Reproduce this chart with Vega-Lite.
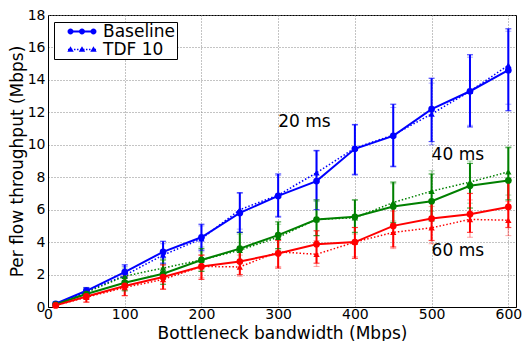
{
  "$schema": "https://vega.github.io/schema/vega-lite/v6.json",
  "autosize": {"type": "none"},
  "padding": {"left": 48, "top": 15, "right": 9, "bottom": 34},
  "width": 468,
  "height": 292,
  "background": "white",
  "config": {
    "view": {"stroke": "black", "strokeWidth": 1},
    "axis": {
      "labelFont": "DejaVu Sans", "labelFontSize": 14, "labelColor": "black",
      "titleFont": "DejaVu Sans", "titleFontSize": 17, "titleFontWeight": "normal", "titleColor": "black",
      "domainColor": "black", "tickSize": 0, "grid": true, "gridDash": [1, 2], "gridColor": "#888888",
      "gridOpacity": 1, "labelFlush": false, "labelOverlap": false
    }
  },
  "datasets": {
    "main": [
      {"bw": 10, "delay": "20 ms", "variant": "Baseline", "y": 0.2, "lo": 0.1, "hi": 0.3},
      {"bw": 50, "delay": "20 ms", "variant": "Baseline", "y": 1.0, "lo": 0.8, "hi": 1.2},
      {"bw": 100, "delay": "20 ms", "variant": "Baseline", "y": 2.15, "lo": 1.6, "hi": 2.6},
      {"bw": 150, "delay": "20 ms", "variant": "Baseline", "y": 3.4, "lo": 2.7, "hi": 4.05},
      {"bw": 200, "delay": "20 ms", "variant": "Baseline", "y": 4.3, "lo": 3.5, "hi": 5.1},
      {"bw": 250, "delay": "20 ms", "variant": "Baseline", "y": 5.8, "lo": 4.6, "hi": 7.05},
      {"bw": 300, "delay": "20 ms", "variant": "Baseline", "y": 6.85, "lo": 5.55, "hi": 8.2},
      {"bw": 350, "delay": "20 ms", "variant": "Baseline", "y": 7.76, "lo": 6.0, "hi": 9.65},
      {"bw": 400, "delay": "20 ms", "variant": "Baseline", "y": 9.75, "lo": 8.15, "hi": 11.25},
      {"bw": 450, "delay": "20 ms", "variant": "Baseline", "y": 10.55, "lo": 8.65, "hi": 12.5},
      {"bw": 500, "delay": "20 ms", "variant": "Baseline", "y": 12.2, "lo": 10.2, "hi": 14.1},
      {"bw": 550, "delay": "20 ms", "variant": "Baseline", "y": 13.3, "lo": 11.1, "hi": 15.55},
      {"bw": 600, "delay": "20 ms", "variant": "Baseline", "y": 14.6, "lo": 12.1, "hi": 17.15},
      {"bw": 10, "delay": "20 ms", "variant": "TDF 10", "y": 0.2, "lo": 0.1, "hi": 0.3},
      {"bw": 50, "delay": "20 ms", "variant": "TDF 10", "y": 0.95, "lo": 0.75, "hi": 1.15},
      {"bw": 100, "delay": "20 ms", "variant": "TDF 10", "y": 1.95, "lo": 1.45, "hi": 2.5},
      {"bw": 150, "delay": "20 ms", "variant": "TDF 10", "y": 3.2, "lo": 2.6, "hi": 3.9},
      {"bw": 200, "delay": "20 ms", "variant": "TDF 10", "y": 4.2, "lo": 3.4, "hi": 5.0},
      {"bw": 250, "delay": "20 ms", "variant": "TDF 10", "y": 6.0, "lo": 4.8, "hi": 7.0},
      {"bw": 300, "delay": "20 ms", "variant": "TDF 10", "y": 6.9, "lo": 5.6, "hi": 8.1},
      {"bw": 350, "delay": "20 ms", "variant": "TDF 10", "y": 8.27, "lo": 6.6, "hi": 9.6},
      {"bw": 400, "delay": "20 ms", "variant": "TDF 10", "y": 9.8, "lo": 8.2, "hi": 11.2},
      {"bw": 450, "delay": "20 ms", "variant": "TDF 10", "y": 10.6, "lo": 8.7, "hi": 12.3},
      {"bw": 500, "delay": "20 ms", "variant": "TDF 10", "y": 11.9, "lo": 10.0, "hi": 13.8},
      {"bw": 550, "delay": "20 ms", "variant": "TDF 10", "y": 13.3, "lo": 11.2, "hi": 15.4},
      {"bw": 600, "delay": "20 ms", "variant": "TDF 10", "y": 14.9, "lo": 12.5, "hi": 17.0},
      {"bw": 10, "delay": "40 ms", "variant": "Baseline", "y": 0.15, "lo": 0.1, "hi": 0.2},
      {"bw": 50, "delay": "40 ms", "variant": "Baseline", "y": 0.8, "lo": 0.5, "hi": 1.1},
      {"bw": 100, "delay": "40 ms", "variant": "Baseline", "y": 1.5, "lo": 1.0, "hi": 2.1},
      {"bw": 150, "delay": "40 ms", "variant": "Baseline", "y": 2.05, "lo": 1.4, "hi": 2.9},
      {"bw": 200, "delay": "40 ms", "variant": "Baseline", "y": 2.9, "lo": 2.2, "hi": 3.6},
      {"bw": 250, "delay": "40 ms", "variant": "Baseline", "y": 3.6, "lo": 2.8, "hi": 4.6},
      {"bw": 300, "delay": "40 ms", "variant": "Baseline", "y": 4.43, "lo": 3.6, "hi": 5.25},
      {"bw": 350, "delay": "40 ms", "variant": "Baseline", "y": 5.39, "lo": 4.4, "hi": 6.6},
      {"bw": 400, "delay": "40 ms", "variant": "Baseline", "y": 5.56, "lo": 4.6, "hi": 6.6},
      {"bw": 450, "delay": "40 ms", "variant": "Baseline", "y": 6.2, "lo": 5.2, "hi": 7.7},
      {"bw": 500, "delay": "40 ms", "variant": "Baseline", "y": 6.52, "lo": 5.3, "hi": 8.2},
      {"bw": 550, "delay": "40 ms", "variant": "Baseline", "y": 7.47, "lo": 6.1, "hi": 8.85},
      {"bw": 600, "delay": "40 ms", "variant": "Baseline", "y": 7.8, "lo": 6.6, "hi": 9.85},
      {"bw": 10, "delay": "40 ms", "variant": "TDF 10", "y": 0.15, "lo": 0.1, "hi": 0.2},
      {"bw": 50, "delay": "40 ms", "variant": "TDF 10", "y": 0.9, "lo": 0.6, "hi": 1.2},
      {"bw": 100, "delay": "40 ms", "variant": "TDF 10", "y": 1.9, "lo": 1.3, "hi": 2.4},
      {"bw": 150, "delay": "40 ms", "variant": "TDF 10", "y": 2.4, "lo": 1.7, "hi": 3.0},
      {"bw": 200, "delay": "40 ms", "variant": "TDF 10", "y": 2.9, "lo": 2.2, "hi": 3.7},
      {"bw": 250, "delay": "40 ms", "variant": "TDF 10", "y": 3.5, "lo": 2.7, "hi": 4.5},
      {"bw": 300, "delay": "40 ms", "variant": "TDF 10", "y": 4.3, "lo": 3.5, "hi": 5.1},
      {"bw": 350, "delay": "40 ms", "variant": "TDF 10", "y": 5.4, "lo": 4.4, "hi": 6.5},
      {"bw": 400, "delay": "40 ms", "variant": "TDF 10", "y": 5.5, "lo": 4.5, "hi": 6.6},
      {"bw": 450, "delay": "40 ms", "variant": "TDF 10", "y": 6.44, "lo": 5.3, "hi": 7.6},
      {"bw": 500, "delay": "40 ms", "variant": "TDF 10", "y": 7.14, "lo": 5.9, "hi": 8.4},
      {"bw": 550, "delay": "40 ms", "variant": "TDF 10", "y": 7.7, "lo": 6.4, "hi": 9.0},
      {"bw": 600, "delay": "40 ms", "variant": "TDF 10", "y": 8.33, "lo": 6.9, "hi": 9.8},
      {"bw": 10, "delay": "60 ms", "variant": "Baseline", "y": 0.1, "lo": 0.05, "hi": 0.15},
      {"bw": 50, "delay": "60 ms", "variant": "Baseline", "y": 0.65, "lo": 0.3, "hi": 1.0},
      {"bw": 100, "delay": "60 ms", "variant": "Baseline", "y": 1.3, "lo": 0.7, "hi": 1.9},
      {"bw": 150, "delay": "60 ms", "variant": "Baseline", "y": 1.85, "lo": 1.1, "hi": 2.6},
      {"bw": 200, "delay": "60 ms", "variant": "Baseline", "y": 2.5, "lo": 1.7, "hi": 3.2},
      {"bw": 250, "delay": "60 ms", "variant": "Baseline", "y": 2.8, "lo": 2.0, "hi": 3.5},
      {"bw": 300, "delay": "60 ms", "variant": "Baseline", "y": 3.3, "lo": 2.4, "hi": 4.1},
      {"bw": 350, "delay": "60 ms", "variant": "Baseline", "y": 3.87, "lo": 2.7, "hi": 4.7},
      {"bw": 400, "delay": "60 ms", "variant": "Baseline", "y": 4.0, "lo": 3.0, "hi": 4.9},
      {"bw": 450, "delay": "60 ms", "variant": "Baseline", "y": 5.0, "lo": 3.7, "hi": 6.2},
      {"bw": 500, "delay": "60 ms", "variant": "Baseline", "y": 5.45, "lo": 4.1, "hi": 6.6},
      {"bw": 550, "delay": "60 ms", "variant": "Baseline", "y": 5.72, "lo": 4.6, "hi": 7.0},
      {"bw": 600, "delay": "60 ms", "variant": "Baseline", "y": 6.17, "lo": 4.9, "hi": 7.8},
      {"bw": 10, "delay": "60 ms", "variant": "TDF 10", "y": 0.1, "lo": 0.05, "hi": 0.15},
      {"bw": 50, "delay": "60 ms", "variant": "TDF 10", "y": 0.6, "lo": 0.3, "hi": 0.95},
      {"bw": 100, "delay": "60 ms", "variant": "TDF 10", "y": 1.2, "lo": 0.7, "hi": 1.8},
      {"bw": 150, "delay": "60 ms", "variant": "TDF 10", "y": 1.7, "lo": 1.1, "hi": 2.4},
      {"bw": 200, "delay": "60 ms", "variant": "TDF 10", "y": 2.5, "lo": 1.8, "hi": 3.2},
      {"bw": 250, "delay": "60 ms", "variant": "TDF 10", "y": 2.47, "lo": 1.9, "hi": 3.2},
      {"bw": 300, "delay": "60 ms", "variant": "TDF 10", "y": 3.4, "lo": 2.5, "hi": 4.2},
      {"bw": 350, "delay": "60 ms", "variant": "TDF 10", "y": 3.25, "lo": 2.5, "hi": 4.1},
      {"bw": 400, "delay": "60 ms", "variant": "TDF 10", "y": 4.0, "lo": 3.1, "hi": 4.9},
      {"bw": 450, "delay": "60 ms", "variant": "TDF 10", "y": 4.6, "lo": 3.6, "hi": 5.9},
      {"bw": 500, "delay": "60 ms", "variant": "TDF 10", "y": 4.88, "lo": 3.9, "hi": 6.2},
      {"bw": 550, "delay": "60 ms", "variant": "TDF 10", "y": 5.4, "lo": 4.3, "hi": 6.6},
      {"bw": 600, "delay": "60 ms", "variant": "TDF 10", "y": 5.35, "lo": 4.4, "hi": 6.5}
    ],
    "labels": [
      {"bw": 300, "y": 11.4, "text": "20 ms"},
      {"bw": 500, "y": 9.4, "text": "40 ms"},
      {"bw": 500, "y": 3.44, "text": "60 ms"}
    ]
  },
  "encoding": {
    "x": {"field": "bw", "type": "quantitative", "scale": {"domain": [0, 610], "nice": false},
      "axis": {"values": [0, 100, 200, 300, 400, 500, 600], "title": "Bottleneck bandwidth (Mbps)", "labelPadding": 0, "titlePadding": 4}},
    "y": {"field": "y", "type": "quantitative", "scale": {"domain": [0, 18], "nice": false},
      "axis": {"values": [0, 2, 4, 6, 8, 10, 12, 14, 16, 18], "title": "Per flow throughput (Mbps)", "labelPadding": 3, "titlePadding": 1}}
  },
  "layer": [
    {
      "data": {"name": "main"},
      "transform": [{"filter": "datum.variant === 'TDF 10'"}],
      "mark": {"type": "rule", "strokeWidth": 1.5, "opacity": 0.35},
      "encoding": {
        "y": {"field": "lo", "type": "quantitative"}, "y2": {"field": "hi"},
        "color": {"field": "delay", "type": "nominal", "scale": {"domain": ["20 ms", "40 ms", "60 ms"], "range": ["#0000ff", "#008000", "#ff0000"]}, "legend": null}
      }
    },
    {
      "data": {"name": "main"},
      "transform": [{"filter": "datum.variant === 'TDF 10'"}],
      "mark": {"type": "tick", "orient": "horizontal", "size": 6, "thickness": 1, "opacity": 0.35},
      "encoding": {"y": {"field": "hi", "type": "quantitative"}, "color": {"field": "delay", "type": "nominal", "legend": null}}
    },
    {
      "data": {"name": "main"},
      "transform": [{"filter": "datum.variant === 'TDF 10'"}],
      "mark": {"type": "tick", "orient": "horizontal", "size": 6, "thickness": 1, "opacity": 0.35},
      "encoding": {"y": {"field": "lo", "type": "quantitative"}, "color": {"field": "delay", "type": "nominal", "legend": null}}
    },
    {
      "data": {"name": "main"},
      "transform": [{"filter": "datum.variant === 'Baseline'"}],
      "mark": {"type": "rule", "strokeWidth": 2},
      "encoding": {
        "y": {"field": "lo", "type": "quantitative"}, "y2": {"field": "hi"},
        "color": {"field": "delay", "type": "nominal", "legend": null}
      }
    },
    {
      "data": {"name": "main"},
      "transform": [{"filter": "datum.variant === 'Baseline'"}],
      "mark": {"type": "tick", "orient": "horizontal", "size": 6, "thickness": 1.2},
      "encoding": {"y": {"field": "hi", "type": "quantitative"}, "color": {"field": "delay", "type": "nominal", "legend": null}}
    },
    {
      "data": {"name": "main"},
      "transform": [{"filter": "datum.variant === 'Baseline'"}],
      "mark": {"type": "tick", "orient": "horizontal", "size": 6, "thickness": 1.2},
      "encoding": {"y": {"field": "lo", "type": "quantitative"}, "color": {"field": "delay", "type": "nominal", "legend": null}}
    },
    {
      "data": {"name": "main"},
      "transform": [{"filter": "datum.variant === 'TDF 10'"}],
      "mark": {"type": "line", "strokeWidth": 1.5, "strokeDash": [1.5, 2]},
      "encoding": {"color": {"field": "delay", "type": "nominal", "legend": null}}
    },
    {
      "data": {"name": "main"},
      "transform": [{"filter": "datum.variant === 'Baseline'"}],
      "mark": {"type": "line", "strokeWidth": 2},
      "encoding": {"color": {"field": "delay", "type": "nominal", "legend": null}}
    },
    {
      "data": {"name": "main"},
      "transform": [{"filter": "datum.variant === 'TDF 10'"}],
      "mark": {"type": "point", "shape": "triangle-up", "filled": true, "size": 40, "opacity": 1},
      "encoding": {"color": {"field": "delay", "type": "nominal", "legend": null}}
    },
    {
      "data": {"name": "main"},
      "transform": [{"filter": "datum.variant === 'Baseline'"}],
      "mark": {"type": "point", "shape": "circle", "filled": true, "size": 45, "opacity": 1},
      "encoding": {"color": {"field": "delay", "type": "nominal", "legend": null}}
    },
    {
      "data": {"name": "labels"},
      "mark": {"type": "text", "align": "left", "baseline": "middle", "font": "DejaVu Sans", "fontSize": 17, "color": "black"},
      "encoding": {"text": {"field": "text"}}
    },
    {
      "data": {"name": "main"},
      "mark": {"type": "point", "filled": true, "color": "#0000ff", "opacity": 0},
      "encoding": {
        "shape": {
          "field": "variant", "type": "nominal",
          "scale": {
            "domain": ["Baseline", "TDF 10"],
            "range": [
              "M-1.87,-0.13H1.87V0.13H-1.87ZM-1.13,0A0.4,0.4,0,1,1,-1.93,0A0.4,0.4,0,1,1,-1.13,0ZM0.4,0A0.4,0.4,0,1,1,-0.4,0A0.4,0.4,0,1,1,0.4,0ZM1.93,0A0.4,0.4,0,1,1,1.13,0A0.4,0.4,0,1,1,1.93,0Z",
              "M-1.87,-0.09h0.2v0.18h-0.2ZM-1.47,-0.09h0.2v0.18h-0.2ZM-1.07,-0.09h0.2v0.18h-0.2ZM-0.67,-0.09h0.2v0.18h-0.2ZM-0.27,-0.09h0.2v0.18h-0.2ZM0.13,-0.09h0.2v0.18h-0.2ZM0.53,-0.09h0.2v0.18h-0.2ZM0.93,-0.09h0.2v0.18h-0.2ZM1.33,-0.09h0.2v0.18h-0.2ZM1.67,-0.09h0.2v0.18h-0.2ZM-1.53,-0.45L-1.1,0.3L-1.96,0.3ZM0,-0.45L0.43,0.3L-0.43,0.3ZM1.53,-0.45L1.96,0.3L1.1,0.3Z"
            ]
          },
          "legend": {
            "title": null, "orient": "none", "legendX": 6, "legendY": 7,
            "strokeColor": "black", "fillColor": "white", "padding": 1, "rowPadding": 0,
            "symbolSize": 225, "symbolOffset": 18.5, "labelOffset": 12.5,
            "labelFont": "DejaVu Sans", "labelFontSize": 17, "labelColor": "black",
            "labelExpr": "datum.label + '\u2002'",
            "symbolOpacity": 1, "symbolFillColor": "#0000ff", "symbolStrokeColor": "#0000ff", "symbolStrokeWidth": 0
          }
        }
      }
    }
  ]
}
